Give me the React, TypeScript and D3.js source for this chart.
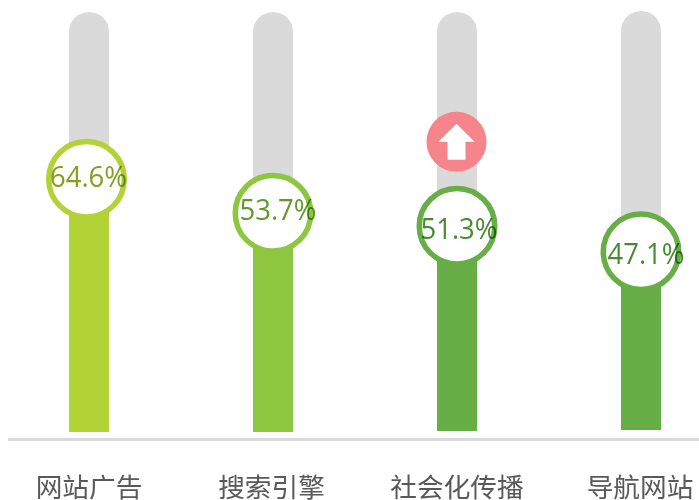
import React from "react";
import * as d3 from "d3";

const categories = ["网站广告", "搜索引擎", "社会化传播", "导航网站"];
const percentLabels = ["64.6%", "53.7%", "51.3%", "47.1%"];
// marker heights, on the 0-100 track scale
const markerLevels = [60.2, 52.1, 49.0, 42.9];
const trackBases = [0, 0, 0.24, 0.48];
const trackTops = [100, 100, 100, 100.24];
const barColors = ["#b2d235", "#8dc63f", "#66ae45", "#66ae45"];
const textColors = ["#84a022", "#5f9a2c", "#4a8a34", "#4a8a34"];
const percentShiftX = [2, 5, 2, 5];
const percentShiftY = [8, 7, 13, 12];
const markerShiftX = [-2.5, 0, 0, 0];
const categoryShiftX = [0, -1.5, 0, -1];
const flaggedCategory = "社会化传播";
const flagLevel = 69.1;

const W = 699;
const H = 500;
const FONT = "'Open Sans', 'Noto Sans', sans-serif";

export default function App() {
  const x = d3.scalePoint<string>().domain(categories).range([89, 641]);
  const y = d3.scaleLinear().domain([0, 100]).range([432, 12]);
  const barW = 40;
  const arrow = d3.path();
  arrow.moveTo(0, -18);
  arrow.lineTo(18, 0);
  arrow.lineTo(9, 0);
  arrow.lineTo(9, 18);
  arrow.lineTo(-9, 18);
  arrow.lineTo(-9, 0);
  arrow.lineTo(-18, 0);
  arrow.closePath();

  return (
    <svg
      width={W}
      height={H}
      viewBox={`0 0 ${W} ${H}`}
      style={{ position: "fixed", left: 0, top: 0, display: "block", background: "#fff" }}
    >
      {categories.map((c, i) => {
        const bx = x(c)!;
        const cx = bx + markerShiftX[i];
        const top = y(trackTops[i]);
        const base = y(trackBases[i]);
        const my = y(markerLevels[i]);
        const r = barW / 2;
        const track = d3.path();
        track.moveTo(bx - r, my);
        track.lineTo(bx - r, top + r);
        track.arc(bx, top + r, r, Math.PI, 0);
        track.lineTo(bx + r, my);
        track.closePath();
        return (
          <g key={c}>
            <path d={track.toString()} fill="#dadada" />
            <rect x={bx - r} y={my} width={barW} height={base - my} fill={barColors[i]} />
            <circle cx={cx} cy={my} r={37.75} fill="#fff" stroke={barColors[i]} strokeWidth={5.5} />
            <text
              x={cx + percentShiftX[i]}
              y={my + percentShiftY[i]}
              textAnchor="middle"
              fontFamily={FONT}
              fontSize={29}
              textLength={77}
              lengthAdjust="spacingAndGlyphs"
              fill={textColors[i]}
              style={{ mixBlendMode: "multiply" }}
            >
              {percentLabels[i]}
            </text>
            <text
              x={bx + categoryShiftX[i]}
              y={497}
              textAnchor="middle"
              fontFamily="'Noto Sans CJK SC', sans-serif"
              fontSize={26.67}
              fontWeight={400}
              fill="#595959"
            >
              {c}
            </text>
            {c === flaggedCategory && (
              <g transform={`translate(${bx - 0.5},${y(flagLevel)})`}>
                <circle r={30} fill="#f6848b" />
                <path d={arrow.toString()} fill="#fff" />
              </g>
            )}
          </g>
        );
      })}
      <line x1={8} x2={W} y1={439.5} y2={439.5} stroke="#d9d9d9" strokeWidth={3} />
    </svg>
  );
}
